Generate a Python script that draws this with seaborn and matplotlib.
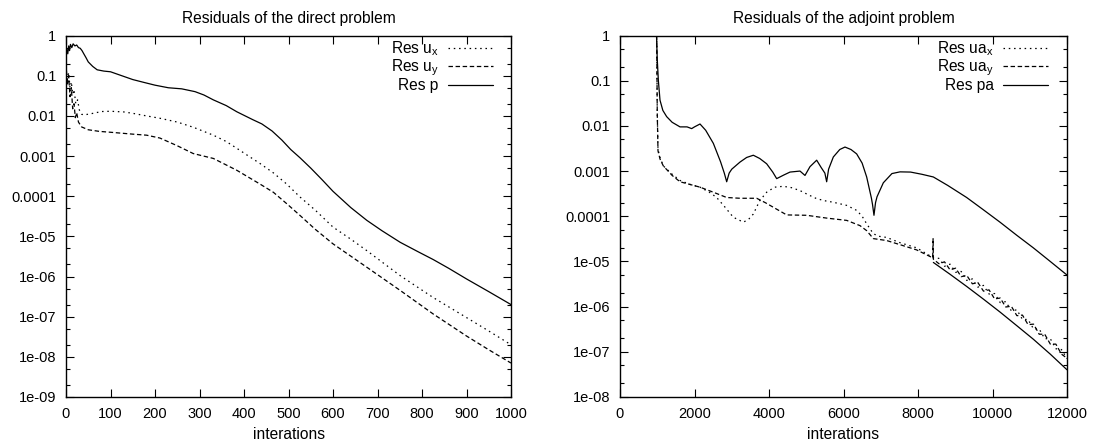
import numpy as np
import matplotlib
matplotlib.use("Agg")
import matplotlib.pyplot as plt
from matplotlib.ticker import LogLocator, NullFormatter
import seaborn as sns

# ---------------- data: direct problem ----------------
dir_iter_p = [0, 2, 4, 6, 8, 10, 13, 16, 20, 24, 28, 32, 36, 40, 45, 50, 60, 70, 85, 100,
              125, 150, 175, 200, 230, 260, 290, 310, 331, 360, 384, 420, 440, 463, 485, 505,
              526, 550, 575, 600, 640, 676, 710, 751, 790, 825, 860, 900, 950, 1000]
res_p = [0.30, 0.45, 0.35, 0.55, 0.42, 0.60, 0.50, 0.62, 0.55, 0.58, 0.50, 0.48, 0.42, 0.35,
         0.28, 0.22, 0.17, 0.14, 0.13, 0.125, 0.10, 0.08, 0.068, 0.058, 0.050, 0.047, 0.040,
         0.033, 0.025, 0.018, 0.0126, 0.0080, 0.0063, 0.0042, 0.0025, 0.00145, 0.0009,
         0.0005, 0.00026, 0.000132, 5.2e-5, 2.5e-5, 1.38e-5, 7.1e-6, 4.2e-6, 2.65e-6, 1.6e-6,
         8.7e-7, 4.2e-7, 2.0e-7]

dir_iter_ux = [0, 3, 6, 9, 12, 15, 18, 22, 26, 30, 35, 40, 60, 80, 100, 130, 151, 180, 211,
               250, 286, 331, 360, 384, 410, 436, 466, 496, 526, 560, 600, 640, 676, 751, 825,
               900, 950, 1000]
res_ux = [0.15, 0.08, 0.12, 0.05, 0.07, 0.035, 0.045, 0.02, 0.025, 0.014, 0.011, 0.0105,
          0.0115, 0.0128, 0.013, 0.0125, 0.0115, 0.010, 0.0087, 0.0070, 0.0052, 0.0033,
          0.0023, 0.00155, 0.0010, 0.00065, 0.00038, 0.0002, 9.5e-5, 4.5e-5, 1.7e-5, 8.5e-6,
          4.4e-6, 1.05e-6, 3.0e-7, 9.5e-8, 4.4e-8, 2.0e-8]

dir_iter_uy = [0, 3, 6, 9, 12, 15, 18, 21, 24, 28, 35, 50, 75, 100, 150, 181, 211, 250, 286,
               331, 384, 436, 466, 496, 526, 560, 600, 676, 751, 825, 900, 950, 1000]
res_uy = [0.20, 0.06, 0.10, 0.03, 0.05, 0.015, 0.02, 0.009, 0.012, 0.007, 0.0053, 0.0045,
          0.0041, 0.0039, 0.0035, 0.0033, 0.0028, 0.0018, 0.00115, 0.00087, 0.00044, 0.0002,
          0.000125, 6.5e-5, 3.3e-5, 1.5e-5, 6.5e-6, 1.7e-6, 4.5e-7, 1.17e-7, 3.3e-8, 1.5e-8,
          7e-9]

# ---------------- data: adjoint problem ----------------
adj_iter_pa = [980, 1000, 1030, 1074, 1150, 1253, 1400, 1611, 1800, 1924, 2000, 2148, 2300,
               2506, 2700, 2800, 2864, 2930, 3000, 3221, 3400, 3579, 3750, 3937, 4100, 4206,
               4400, 4564, 4832, 4966, 5100, 5280, 5400, 5500, 5548, 5600, 5727, 5900, 6040,
               6200, 6353, 6500, 6622, 6750, 6780, 6818, 6860, 6900, 7069, 7300, 7517, 7800,
               8100, 8412, 8800, 9306, 9750, 10201, 10650, 11096, 11550, 12000]
res_pa = [1.0, 0.3, 0.1, 0.037, 0.022, 0.016, 0.012, 0.0095, 0.0095, 0.0087, 0.0095, 0.011,
          0.0080, 0.0041, 0.0016, 0.0009, 0.00058, 0.0009, 0.0011, 0.00158, 0.0020, 0.00224,
          0.0019, 0.00145, 0.00095, 0.00068, 0.00082, 0.00095, 0.0010, 0.0008, 0.00125,
          0.00174, 0.0012, 0.0009, 0.00058, 0.0011, 0.00205, 0.0030, 0.0034, 0.0030, 0.0024,
          0.0015, 0.00074, 0.00025, 0.00018, 0.000105, 0.0002, 0.00027, 0.00055, 0.00088,
          0.00096, 0.00095, 0.00085, 0.00074, 0.00048, 0.00026, 0.00014, 7.4e-5, 3.8e-5,
          2.0e-5, 1.0e-5, 5.0e-6]

adj_iter_pa_tail = [8412, 8860, 9306, 9754, 10201, 10650, 11096, 11550, 12000]
res_pa_tail = [9.5e-6, 5.2e-6, 2.8e-6, 1.47e-6, 7.6e-7, 3.8e-7, 1.9e-7, 8.9e-8, 4.0e-8]

adj_iter_uax = [985, 1000, 1020, 1074, 1163, 1400, 1611, 1900, 2148, 2400, 2595, 2800, 3042,
                3311, 3450, 3579, 3750, 3937, 4150, 4385, 4600, 4832, 5050, 5280, 5500, 5727,
                6085, 6353, 6500, 6622, 6801, 6950, 7159, 7517, 7964]
res_uax = [1.0, 0.02, 0.003, 0.002, 0.0013, 0.00085, 0.00062, 0.0005, 0.00044, 0.00034,
           0.00026, 0.000166, 9.5e-5, 7.4e-5, 8.5e-5, 0.000112, 0.00022, 0.00034, 0.00044,
           0.00046, 0.00043, 0.00037, 0.0003, 0.000245, 0.00022, 0.000204, 0.000174, 0.000135,
           0.0001, 6.8e-5, 4.1e-5, 3.6e-5, 3.4e-5, 2.6e-5, 2.0e-5]

adj_iter_uay = [985, 1000, 1020, 1074, 1163, 1400, 1611, 1900, 2148, 2506, 2864, 3221, 3669,
                3900, 4116, 4475, 5011, 5548, 6085, 6443, 6622, 6801, 7159, 7517, 7964, 8395,
                8405]
res_uay = [1.0, 0.02, 0.0028, 0.00185, 0.0013, 0.0008, 0.00058, 0.0005, 0.00044, 0.00034,
           0.00026, 0.00025, 0.00025, 0.0002, 0.000158, 0.000107, 0.000105, 9.1e-5, 8.1e-5,
           6.2e-5, 4.8e-5, 3.2e-5, 2.9e-5, 2.35e-5, 1.8e-5, 1.2e-5, 3.2e-5]

adj_iter_noisy = [8412, 8562, 8711, 8861, 9010, 9160, 9309, 9459, 9608, 9758, 9907, 10057,
                  10206, 10356, 10505, 10655, 10804, 10954, 11103, 11253, 11402, 11552, 11701,
                  11851, 12000]
res_uax_noisy = [1.2e-5, 1.17e-5, 7.8e-6, 8.7e-6, 5.75e-6, 6.0e-6, 3.8e-6, 4.1e-6, 2.7e-6,
                 2.95e-6, 1.9e-6, 1.95e-6, 1.23e-6, 1.29e-6, 8.1e-7, 8.5e-7, 5.2e-7, 5.2e-7,
                 3.2e-7, 3.2e-7, 1.95e-7, 1.95e-7, 1.17e-7, 1.12e-7, 7.1e-8]
res_uay_noisy = [1.12e-5, 8.9e-6, 9.8e-6, 6.5e-6, 7.1e-6, 4.6e-6, 4.9e-6, 3.2e-6, 3.4e-6,
                 2.2e-6, 2.35e-6, 1.48e-6, 1.55e-6, 9.8e-7, 1.02e-6, 6.3e-7, 6.5e-7, 4.0e-7,
                 4.1e-7, 2.45e-7, 2.45e-7, 1.48e-7, 1.48e-7, 8.9e-8, 7.2e-8]

# ---------------- axes text / ticks ----------------
dir_title = "Residuals of the direct problem"
adj_title = "Residuals of the adjoint problem"
x_label = "interations"
dir_xticks = [0, 100, 200, 300, 400, 500, 600, 700, 800, 900, 1000]
adj_xticks = [0, 2000, 4000, 6000, 8000, 10000, 12000]
dir_yticks = [1, 0.1, 0.01, 0.001, 0.0001, 1e-5, 1e-6, 1e-7, 1e-8, 1e-9]
dir_yticklabels = ["1", "0.1", "0.01", "0.001", "0.0001", "1e-05", "1e-06", "1e-07", "1e-08", "1e-09"]
adj_yticks = [1, 0.1, 0.01, 0.001, 0.0001, 1e-5, 1e-6, 1e-7, 1e-8]
adj_yticklabels = ["1", "0.1", "0.01", "0.001", "0.0001", "1e-05", "1e-06", "1e-07", "1e-08"]
dir_labels = [r"Res u$_x$", r"Res u$_y$", "Res p"]
adj_labels = [r"Res ua$_x$", r"Res ua$_y$", "Res pa"]

# ---------------- style ----------------
sns.set_theme(style="ticks")
plt.rcParams["font.family"] = ["Liberation Sans", "DejaVu Sans"]
plt.rcParams["mathtext.default"] = "regular"
plt.rcParams["mathtext.fontset"] = "custom"
plt.rcParams["mathtext.rm"] = "Liberation Sans"
plt.rcParams["lines.scale_dashes"] = False
plt.rcParams["axes.edgecolor"] = "black"
plt.rcParams["axes.linewidth"] = 1.0
plt.rcParams["text.color"] = "black"
plt.rcParams["axes.labelcolor"] = "black"

DOT = (0, (1.1, 2.7))
DASH = (0, (3.2, 1.9))
SOLID = "-"
LW = 0.9
BIG = 11.2
TICK = 10.5

fig = plt.figure(figsize=(10.96, 4.43), dpi=100)
ax1 = fig.add_axes([66 / 1096, 46 / 443, 445 / 1096, 361.5 / 443])
ax2 = fig.add_axes([620 / 1096, 46 / 443, 447 / 1096, 361.5 / 443])


def draw(ax, x, y, ls, label):
    sns.lineplot(x=np.asarray(x, dtype=float), y=np.asarray(y, dtype=float), ax=ax,
                 color="black", linewidth=LW, linestyle=ls, label=label,
                 estimator=None, sort=False, legend=False)


draw(ax1, dir_iter_ux, res_ux, DOT, dir_labels[0])
draw(ax1, dir_iter_uy, res_uy, DASH, dir_labels[1])
draw(ax1, dir_iter_p, res_p, SOLID, dir_labels[2])

draw(ax2, adj_iter_uax + adj_iter_noisy, res_uax + res_uax_noisy, DOT, adj_labels[0])
draw(ax2, adj_iter_uay + adj_iter_noisy, res_uay + res_uay_noisy, DASH, adj_labels[1])
draw(ax2, adj_iter_pa, res_pa, SOLID, adj_labels[2])
draw(ax2, adj_iter_pa_tail, res_pa_tail, SOLID, "_nolegend_")


def style(ax, title, xticks, xlim, yticks, yticklabels, ylim, labels, leg_x):
    ax.set_yscale("log")
    ax.set_xlim(*xlim)
    ax.set_ylim(*ylim)
    ax.set_xticks(xticks, labels=[str(v) for v in xticks])
    ax.set_yticks(yticks, labels=yticklabels)
    ax.yaxis.set_minor_locator(LogLocator(base=10, subs=(2.0, 5.0), numticks=50))
    ax.yaxis.set_minor_formatter(NullFormatter())
    ax.tick_params(which="both", direction="in", top=True, right=True, colors="black",
                   labelsize=TICK, width=0.8)
    ax.tick_params(which="major", length=5.5, pad=7)
    ax.tick_params(which="minor", length=3)
    ax.set_title(title, fontsize=BIG, pad=9)
    ax.set_xlabel(x_label, fontsize=BIG, labelpad=4.5)
    ax.set_ylabel("")
    for s in ax.spines.values():
        s.set_linewidth(1.0)
        s.set_color("black")
    handles = [l for l in ax.get_lines() if not l.get_label().startswith("_")]
    ax.legend(handles=handles, labels=labels, loc="upper right",
              bbox_to_anchor=(leg_x, 0.99), borderaxespad=0, borderpad=0,
              frameon=False, markerfirst=False, fontsize=BIG, handlelength=2.9,
              handletextpad=0.6, labelspacing=0.0)


style(ax1, dir_title, dir_xticks, (0, 1000), dir_yticks, dir_yticklabels, (1e-9, 1),
      dir_labels, 0.9596)
style(ax2, adj_title, adj_xticks, (0, 12000), adj_yticks, adj_yticklabels, (1e-8, 1),
      adj_labels, 0.9575)

fig.savefig("out.png", dpi=100)
